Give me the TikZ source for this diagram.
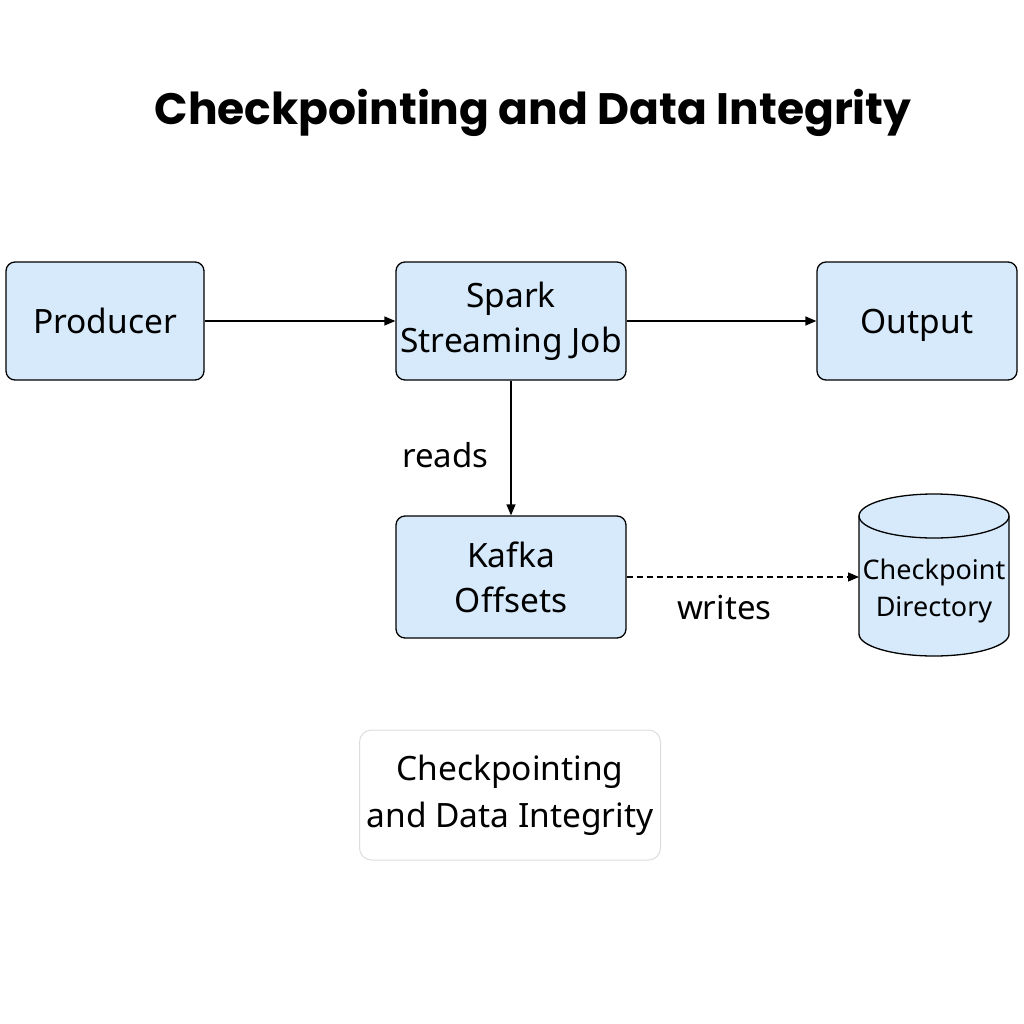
\documentclass[tikz,border=0pt]{standalone}
\usepackage{fontspec}
\setmainfont{Noto Sans}
\newfontfamily\titlefont{Poppins}
\usetikzlibrary{arrows.meta}
\definecolor{boxfill}{HTML}{D6EAFB}
\definecolor{cardline}{HTML}{DDDDDD}
\tikzset{
  x=1pt,y=-1pt,
  procbox/.style={draw=black,line width=1.3pt,fill=boxfill,rounded corners=9pt,
    minimum width=#1,minimum height=118pt,align=center,inner sep=0pt,
    font=\fontsize{33.5}{45}\selectfont},
  procbox/.default=198pt,
  conn/.style={line width=1.3pt,-{Triangle[length=11pt,width=9pt]}},
  lbl/.style={font=\fontsize{33}{44}\selectfont,inner sep=0pt},
  dbline/.style={draw=black,line width=1.3pt},
}
\begin{document}
\begin{tikzpicture}
\useasboundingbox[fill=white] (0,0) rectangle (1024,1024);
\node[font=\titlefont\bfseries\fontsize{44}{52}\selectfont,inner sep=0pt] (title) at (533,113) {Checkpointing and Data Integrity};
\node[procbox=198pt] (prod) at (105,321) {Producer};
\node[procbox=230pt] (spark) at (511,321) {Spark\\Streaming Job};
\node[procbox=200pt,text depth=0pt] (out) at (917,321) {Output};
\node[procbox=230pt,minimum height=122pt] (kafka) at (511,577) {Kafka\\Offsets};
% checkpoint directory cylinder
\filldraw[dbline,fill=boxfill] (859,516) -- (859,634)
  arc[start angle=180,end angle=0,x radius=75,y radius=22] -- (1009,516)
  arc[start angle=0,end angle=-180,x radius=75,y radius=22] -- cycle;
\draw[dbline] (859,516) arc[start angle=180,end angle=0,x radius=75,y radius=22];
\coordinate (ckptw) at (859,575);
\node[align=center,inner sep=0pt,font=\fontsize{27}{37}\selectfont] (ckpt) at (934,591) {Checkpoint\\Directory};
\node[draw=cardline,line width=1pt,rounded corners=12pt,minimum width=301pt,minimum height=130pt,
  align=center,inner sep=0pt,font=\fontsize{33.5}{47}\selectfont] (card) at (510,795) {Checkpointing\\and Data Integrity};
\draw[conn] (prod.east) -- (spark.west);
\draw[conn] (spark.east) -- (out.west);
\draw[conn] (spark.south) -- node[lbl,left=22pt,pos=0.55] (rd) {reads} (kafka.north);
\draw[conn,dashed,dash pattern=on 6pt off 4pt] (kafka.east) -- (kafka.east -| ckptw) node[lbl,pos=0.42,below=18pt] (wr) {writes};
\end{tikzpicture}
\end{document}
